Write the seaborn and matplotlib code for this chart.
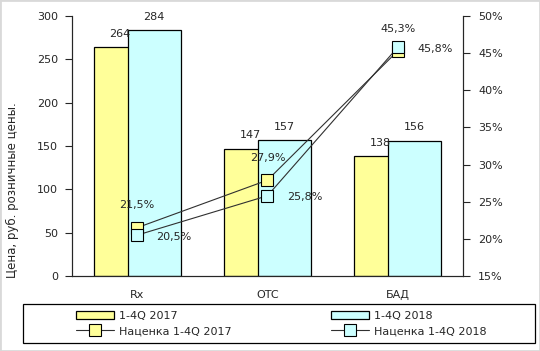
import numpy as np
import pandas as pd
import seaborn as sns
import matplotlib.pyplot as plt
from matplotlib.patches import Rectangle, Patch
from matplotlib.lines import Line2D
from matplotlib.ticker import FuncFormatter

# data
categories = ["Rx", "OTC", "БАД"]
series = ["1-4Q 2017", "1-4Q 2018"]
markup_series = ["Наценка 1-4Q 2017", "Наценка 1-4Q 2018"]
price_2017 = [264, 147, 138]
price_2018 = [284, 157, 156]
markup_2017 = [21.5, 27.9, 45.3]
markup_2018 = [20.5, 25.8, 45.8]

YELLOW = "#FFFF99"
CYAN = "#CCFFFF"
LINE = "#303030"

sns.set_style("white")
plt.rcParams["font.family"] = ["DejaVu Sans"]
plt.rcParams["font.size"] = 8

df = pd.DataFrame(
    {
        "cat": categories * 2,
        "period": [series[0]] * 3 + [series[1]] * 3,
        "price": price_2017 + price_2018,
    }
)
pos = np.arange(len(categories))

# figure
fig = plt.figure(figsize=(5.4, 3.51), dpi=100)
ax = fig.add_axes([0.1333, 0.2137, 0.724, 0.7407])
sns.barplot(
    data=df, x="cat", y="price", hue="period", palette=[YELLOW, CYAN],
    width=0.52, dodge=True, saturation=1, edgecolor="black", linewidth=0.9,
    legend=False, ax=ax,
)
# overlapping bars like excel
for cont in ax.containers:
    for p in cont:
        c = p.get_x() + p.get_width() / 2
        p.set_x(c - 0.203)
        p.set_width(0.406)
    ax.bar_label(cont, padding=6, fontsize=8)

ax.set_xlim(-0.5, 2.5)
ax.set_ylim(0, 300)
ax.set_yticks(range(0, 301, 50))
ax.set_xticks([-0.5, 0.5, 1.5, 2.5], minor=True)
ax.tick_params(axis="x", which="major", length=0, pad=10)
ax.tick_params(axis="x", which="minor", length=5, width=0.8, direction="out")
ax.tick_params(axis="y", length=5, width=0.8, direction="out", pad=5, left=True)
ax.set_xlabel("")
ax.set_ylabel("Цена, руб. розничные цены.", fontsize=8.5)
ax.yaxis.set_label_coords(-0.136, 0.331)
ax.spines["top"].set_visible(False)

# markup lines
ax2 = ax.twinx()
sns.lineplot(
    x=pos, y=markup_2017, ax=ax2, color=LINE, lw=0.8, marker="s", markersize=9,
    markerfacecolor=YELLOW, markeredgecolor="black", markeredgewidth=0.8,
)
sns.lineplot(
    x=pos, y=markup_2018, ax=ax2, color=LINE, lw=0.8, marker="s", markersize=9,
    markerfacecolor=CYAN, markeredgecolor="black", markeredgewidth=0.8,
)
for x, v in zip(pos, markup_2017):
    ax2.annotate(f"{v:.1f}%".replace(".", ","), (x, v), xytext=(0, 16),
                 textcoords="offset points", ha="center", va="center", fontsize=8)
for x, v in zip(pos, markup_2018):
    ax2.annotate(f"{v:.1f}%".replace(".", ","), (x, v), xytext=(14, -1),
                 textcoords="offset points", ha="left", va="center", fontsize=8)
ax2.set_ylim(15, 50)
ax2.set_yticks(range(15, 51, 5))
ax2.yaxis.set_major_formatter(FuncFormatter(lambda v, _: f"{v:.0f}%"))
ax2.tick_params(axis="y", length=5, width=0.8, direction="out", pad=6, right=True)
ax2.spines["top"].set_visible(False)
ax2.set_ylabel("")

# legend
handles = [
    Patch(facecolor=YELLOW, edgecolor="black", linewidth=0.9),
    Line2D([], [], color=LINE, lw=0.8, marker="s", markersize=8,
           markerfacecolor=YELLOW, markeredgecolor="black", markeredgewidth=0.8),
    Patch(facecolor=CYAN, edgecolor="black", linewidth=0.9),
    Line2D([], [], color=LINE, lw=0.8, marker="s", markersize=8,
           markerfacecolor=CYAN, markeredgecolor="black", markeredgewidth=0.8),
]
labels = [series[0], markup_series[0], series[1], markup_series[1]]
fig.legend(handles, labels, loc="center", bbox_to_anchor=(0.521, 0.0783), ncol=2,
           frameon=False, handlelength=3.4, handletextpad=0.45, columnspacing=9,
           labelspacing=0.5, fontsize=8)
fig.add_artist(Rectangle((23 / 540, 8 / 351), 512 / 540, 39 / 351, transform=fig.transFigure,
                         fill=False, edgecolor="black", linewidth=0.9))
fig.add_artist(Rectangle((0, 0), 1, 1, transform=fig.transFigure, fill=False,
                         edgecolor="#d9d9d9", linewidth=2))

fig.savefig("out.png", dpi=100)
